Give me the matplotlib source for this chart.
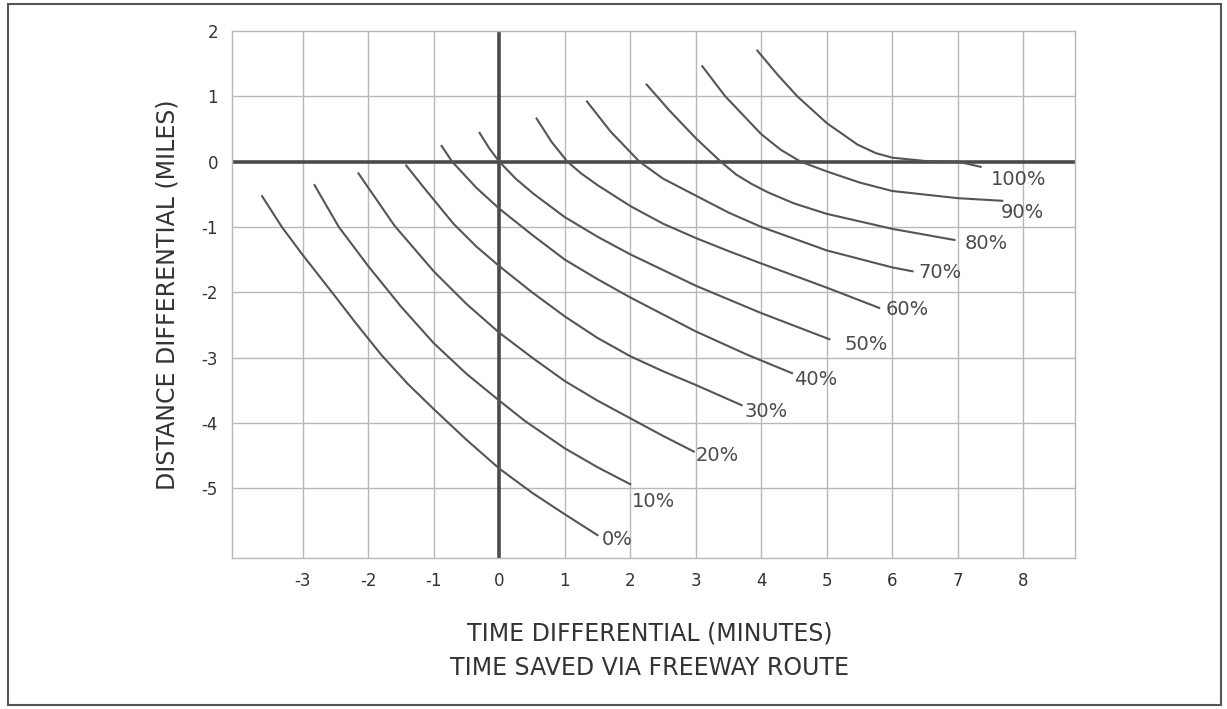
import matplotlib
matplotlib.use("Agg")
import matplotlib.pyplot as plt
from matplotlib.patches import Rectangle

plt.rcParams['axes.unicode_minus'] = False

# curves: time differential (min) vs distance differential (mi)
labels = ['0%', '10%', '20%', '30%', '40%', '50%', '60%', '70%', '80%', '90%', '100%']

x0 = [-3.62, -3.32, -3.0, -2.57, -2.2, -1.8, -1.4, -1.0, -0.5, 0.0, 0.5, 1.0, 1.5]
y0 = [-0.53, -1.0, -1.43, -1.98, -2.46, -2.96, -3.4, -3.79, -4.26, -4.7, -5.07, -5.4, -5.72]
x10 = [-2.82, -2.45, -2.0, -1.5, -1.0, -0.5, 0.0, 0.39, 1.0, 1.5, 2.0]
y10 = [-0.36, -1.0, -1.6, -2.22, -2.78, -3.25, -3.66, -3.97, -4.39, -4.68, -4.94]
x20 = [-2.15, -1.6, -1.0, -0.5, 0.0, 0.5, 1.0, 1.5, 2.0, 2.5, 2.97]
y20 = [-0.18, -0.98, -1.68, -2.18, -2.62, -3.0, -3.36, -3.66, -3.93, -4.2, -4.44]
x30 = [-1.42, -1.15, -0.7, -0.35, 0.0, 0.5, 1.0, 1.5, 2.0, 2.5, 3.0, 3.7]
y30 = [-0.06, -0.4, -0.95, -1.3, -1.6, -2.0, -2.37, -2.7, -2.98, -3.21, -3.42, -3.73]
x40 = [-0.88, -0.72, -0.35, 0.0, 0.5, 1.0, 1.5, 2.0, 2.5, 3.0, 3.77, 4.47]
y40 = [0.24, 0.0, -0.4, -0.72, -1.12, -1.5, -1.8, -2.08, -2.34, -2.6, -2.95, -3.24]
x50 = [-0.3, -0.15, 0.0, 0.25, 0.52, 1.0, 1.5, 2.0, 3.0, 4.0, 5.04]
y50 = [0.44, 0.2, 0.0, -0.26, -0.49, -0.85, -1.15, -1.42, -1.9, -2.32, -2.72]
x60 = [0.57, 0.8, 1.04, 1.25, 1.5, 2.0, 2.5, 3.0, 3.5, 4.0, 5.0, 5.8]
y60 = [0.66, 0.3, 0.0, -0.18, -0.36, -0.68, -0.95, -1.17, -1.37, -1.56, -1.93, -2.24]
x70 = [1.34, 1.7, 2.14, 2.5, 3.0, 3.5, 4.0, 5.0, 6.0, 6.31]
y70 = [0.92, 0.46, 0.0, -0.26, -0.52, -0.78, -1.0, -1.36, -1.62, -1.68]
x80 = [2.25, 2.6, 3.0, 3.38, 3.62, 3.85, 4.1, 4.5, 5.0, 6.0, 6.95]
y80 = [1.18, 0.78, 0.36, 0.0, -0.2, -0.34, -0.47, -0.64, -0.8, -1.03, -1.2]
x90 = [3.1, 3.45, 4.0, 4.3, 4.6, 5.0, 5.5, 6.0, 7.0, 7.68]
y90 = [1.46, 1.0, 0.42, 0.18, 0.0, -0.15, -0.32, -0.45, -0.56, -0.6]
x100 = [3.94, 4.25, 4.55, 5.0, 5.47, 5.75, 6.0, 6.5, 7.0, 7.35]
y100 = [1.7, 1.33, 1.0, 0.59, 0.26, 0.13, 0.06, 0.01, 0.0, -0.08]

curves_x = [x0, x10, x20, x30, x40, x50, x60, x70, x80, x90, x100]
curves_y = [y0, y10, y20, y30, y40, y50, y60, y70, y80, y90, y100]

# where each percentage label sits
label_x = [1.56, 2.02, 3.0, 3.75, 4.5, 5.27, 5.9, 6.4, 7.1, 7.65, 7.5]
label_y = [-5.78, -5.2, -4.5, -3.82, -3.33, -2.8, -2.27, -1.7, -1.25, -0.78, -0.27]

xticks = [-3, -2, -1, 0, 1, 2, 3, 4, 5, 6, 7, 8]
yticks = [-5, -4, -3, -2, -1, 0, 1, 2]

fig = plt.figure(figsize=(12.27, 7.09), dpi=100)
ax = fig.add_axes([232 / 1227, 1 - 558 / 709, (1075 - 232) / 1227, (558 - 31) / 709])

ink = '#4a4a4a'
grid = '#b8b8b8'

for t in xticks:
    if t != 0:
        ax.axvline(t, color=grid, lw=1.0, zorder=1)
for t in yticks[:-1]:
    if t != 0:
        ax.axhline(t, color=grid, lw=1.0, zorder=1)
ax.axvline(0, color=ink, lw=2.6, zorder=2)
ax.axhline(0, color=ink, lw=2.6, zorder=2)

for cx, cy in zip(curves_x, curves_y):
    ax.plot(cx, cy, color='#555555', lw=1.5, zorder=3, solid_joinstyle='round')

for lab, lx, ly in zip(labels, label_x, label_y):
    ax.text(lx, ly, lab, fontsize=14, color=ink, ha='left', va='center', zorder=4)

ax.set_xlim(-4.08, 8.79)
ax.set_ylim(-6.07, 2.0)
ax.set_xticks(xticks)
ax.set_yticks(yticks)
ax.tick_params(length=0, labelsize=12, labelcolor='#333333', pad=10)
for s in ax.spines.values():
    s.set_color(grid)
    s.set_linewidth(1.0)

ax.set_ylabel('DISTANCE DIFFERENTIAL (MILES)', fontsize=17, color='#333333', labelpad=16)
fig.text(650 / 1227, 1 - 633 / 709, 'TIME DIFFERENTIAL (MINUTES)', fontsize=17,
         color='#333333', ha='center', va='center')
fig.text(650 / 1227, 1 - 668 / 709, 'TIME SAVED VIA FREEWAY ROUTE', fontsize=17,
         color='#333333', ha='center', va='center')

# outer frame of the scanned figure
fig.patches.append(Rectangle((8 / 1227, 4 / 709), 1213 / 1227, 701 / 709,
                             transform=fig.transFigure, fill=False,
                             edgecolor='#555555', lw=1.5))

fig.savefig('out.png', dpi=100)
